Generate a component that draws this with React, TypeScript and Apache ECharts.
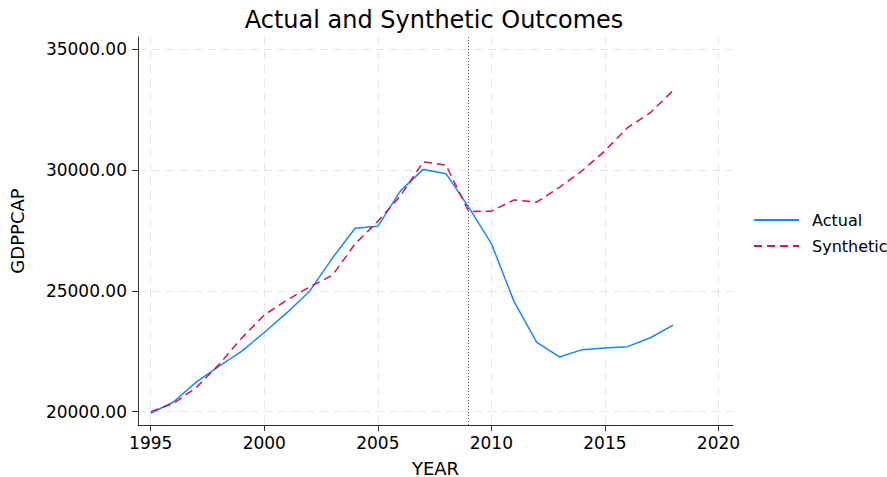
import React, { useEffect, useRef } from "react";
import * as echarts from "echarts";

const years = [1995, 1996, 1997, 1998, 1999, 2000, 2001, 2002, 2003, 2004, 2005, 2006, 2007, 2008, 2009, 2010, 2011, 2012, 2013, 2014, 2015, 2016, 2017, 2018];
const actual = [19932, 20397, 21219, 21877, 22493, 23274, 24096, 24986, 26356, 27589, 27671, 29137, 30027, 29849, 28464, 26955, 24554, 22867, 22263, 22565, 22634, 22689, 23059, 23580];
const synthetic = [20000, 20342, 20986, 21945, 23041, 24000, 24616, 25164, 25644, 26945, 27877, 28932, 30342, 30205, 28285, 28299, 28765, 28669, 29287, 29973, 30796, 31756, 32373, 33292];
const xTicks = [1995, 2000, 2005, 2010, 2015, 2020];
const yTicks = [20000, 25000, 30000, 35000];
const treatmentYear = 2009;

export default function App() {
  const ref = useRef<HTMLDivElement>(null);
  useEffect(() => {
    const chart = echarts.init(ref.current!, null, { renderer: "svg" });
    const font = "DejaVu Sans";
    const gridLine = { show: true, lineStyle: { color: "#e6e6e6", type: [8, 6], width: 1 } };
    chart.setOption({
      animation: false,
      backgroundColor: "#ffffff",
      textStyle: { fontFamily: font },
      grid: { left: 138, right: 154, top: 37, bottom: 52, containLabel: false, outerBoundsMode: "none" },
      graphic: [
        {
          type: "text",
          x: 434,
          y: 8,
          style: {
            text: "Actual and Synthetic Outcomes",
            font: `24px "${font}"`,
            fill: "#000",
            textAlign: "center",
            textVerticalAlign: "top",
          },
        },
      ],
      legend: {
        orient: "vertical",
        left: 748,
        top: 207,
        itemWidth: 45,
        itemHeight: 16,
        itemGap: 10,
        data: ["Actual", "Synthetic"],
        itemStyle: { opacity: 0 },
        textStyle: { fontSize: 16, color: "#000", fontFamily: font, padding: [0, 0, 0, 8] },
      },
      xAxis: {
        type: "value",
        min: 1994.44,
        max: 2020.64,
        name: "YEAR",
        nameLocation: "middle",
        nameGap: 34,
        nameTextStyle: { fontSize: 18, color: "#000", fontFamily: font },
        axisLine: { show: true, onZero: false, lineStyle: { color: "#333", width: 1 } },
        axisTick: { show: true, length: 6, customValues: xTicks, lineStyle: { color: "#333" } },
        axisLabel: { customValues: xTicks, fontSize: 17, color: "#000", margin: 9, formatter: (v: number) => String(v) },
        splitLine: gridLine,
      },
      yAxis: {
        type: "value",
        min: 19446,
        max: 35508,
        name: "GDPPCAP",
        nameLocation: "middle",
        nameRotate: 90,
        nameGap: 112,
        nameTextStyle: { fontSize: 18, color: "#000", fontFamily: font },
        axisLine: { show: true, onZero: false, lineStyle: { color: "#333", width: 1 } },
        axisTick: { show: true, length: 6, customValues: yTicks, lineStyle: { color: "#333" } },
        axisLabel: { customValues: yTicks, fontSize: 17, color: "#000", margin: 11, formatter: (v: number) => v.toFixed(2) },
        splitLine: gridLine,
      },
      series: [
        {
          name: "Actual",
          type: "line",
          symbol: "none",
          showSymbol: false,
          data: years.map((y, i) => [y, actual[i]]),
          lineStyle: { color: "#1A85FF", width: 1.5 },
          itemStyle: { color: "#1A85FF" },
          markLine: {
            silent: true,
            symbol: ["none", "none"],
            label: { show: false },
            lineStyle: { color: "#555", type: [1, 2], width: 1 },
            data: [{ xAxis: treatmentYear }],
          },
          z: 3,
        },
        {
          name: "Synthetic",
          type: "line",
          symbol: "none",
          showSymbol: false,
          data: years.map((y, i) => [y, synthetic[i]]),
          lineStyle: { color: "#D41159", width: 1.5, type: [8, 5] },
          itemStyle: { color: "#D41159" },
          z: 4,
        },
      ],
    });
    return () => chart.dispose();
  }, []);
  return (
    <div
      ref={ref}
      style={{ position: "fixed", left: 0, top: 0, width: 887, height: 477, background: "#fff" }}
    />
  );
}
